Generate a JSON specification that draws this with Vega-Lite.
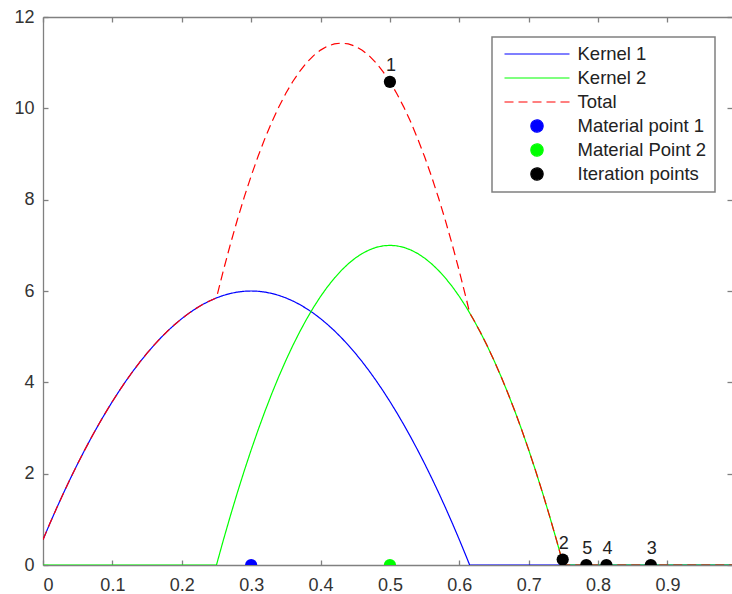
{
  "$schema": "https://vega.github.io/schema/vega-lite/v6.json",
  "width": 689,
  "height": 548,
  "autosize": {"type": "none"},
  "padding": {"left": 43, "top": 17, "right": 0, "bottom": 29},
  "background": "white",
  "config": {
    "view": {"stroke": null},
    "axis": {
      "grid": false,
      "title": null,
      "domainColor": "#808080",
      "domainWidth": 1.3,
      "tickColor": "#808080",
      "tickWidth": 1.3,
      "tickSize": -5,
      "labelFont": "Liberation Sans",
      "labelFontSize": 18,
      "labelColor": "#333333",
      "labelPadding": 16
    },
    "legend": {
      "padding": 8,
      "fillColor": "white",
      "strokeColor": "#808080",
      "strokeWidth": 1.5,
      "labelFont": "Liberation Sans",
      "labelFontSize": 18.5,
      "labelColor": "#222222",
      "clipHeight": 18,
      "rowPadding": 5,
      "symbolStrokeWidth": 1.2,
      "labelOffset": 7,
      "symbolOffset": 3.5
    }
  },
  "datasets": {
    "k1": [
      {"s":"Kernel 1","x":0,"y":0.555},{"s":"Kernel 1","x":0.01,"y":0.912},{"s":"Kernel 1","x":0.02,"y":1.257},{"s":"Kernel 1","x":0.03,"y":1.59},{"s":"Kernel 1","x":0.04,"y":1.91},{"s":"Kernel 1","x":0.05,"y":2.219},{"s":"Kernel 1","x":0.06,"y":2.515},{"s":"Kernel 1","x":0.07,"y":2.8},{"s":"Kernel 1","x":0.08,"y":3.072},{"s":"Kernel 1","x":0.09,"y":3.332},{"s":"Kernel 1","x":0.1,"y":3.58},{"s":"Kernel 1","x":0.11,"y":3.816},{"s":"Kernel 1","x":0.12,"y":4.04},{"s":"Kernel 1","x":0.13,"y":4.252},{"s":"Kernel 1","x":0.14,"y":4.451},{"s":"Kernel 1","x":0.15,"y":4.639},{"s":"Kernel 1","x":0.16,"y":4.814},{"s":"Kernel 1","x":0.17,"y":4.978},{"s":"Kernel 1","x":0.18,"y":5.129},{"s":"Kernel 1","x":0.19,"y":5.268},{"s":"Kernel 1","x":0.2,"y":5.395},{"s":"Kernel 1","x":0.21,"y":5.51},{"s":"Kernel 1","x":0.22,"y":5.613},{"s":"Kernel 1","x":0.23,"y":5.704},{"s":"Kernel 1","x":0.24,"y":5.782},{"s":"Kernel 1","x":0.25,"y":5.849},{"s":"Kernel 1","x":0.26,"y":5.903},{"s":"Kernel 1","x":0.27,"y":5.946},{"s":"Kernel 1","x":0.28,"y":5.976},{"s":"Kernel 1","x":0.29,"y":5.994},{"s":"Kernel 1","x":0.3,"y":6},{"s":"Kernel 1","x":0.31,"y":5.994},{"s":"Kernel 1","x":0.32,"y":5.976},{"s":"Kernel 1","x":0.33,"y":5.946},{"s":"Kernel 1","x":0.34,"y":5.903},{"s":"Kernel 1","x":0.35,"y":5.849},{"s":"Kernel 1","x":0.36,"y":5.782},{"s":"Kernel 1","x":0.37,"y":5.704},{"s":"Kernel 1","x":0.38,"y":5.613},{"s":"Kernel 1","x":0.39,"y":5.51},{"s":"Kernel 1","x":0.4,"y":5.395},{"s":"Kernel 1","x":0.41,"y":5.268},{"s":"Kernel 1","x":0.42,"y":5.129},{"s":"Kernel 1","x":0.43,"y":4.978},{"s":"Kernel 1","x":0.44,"y":4.814},{"s":"Kernel 1","x":0.45,"y":4.639},{"s":"Kernel 1","x":0.46,"y":4.451},{"s":"Kernel 1","x":0.47,"y":4.252},{"s":"Kernel 1","x":0.48,"y":4.04},{"s":"Kernel 1","x":0.49,"y":3.816},{"s":"Kernel 1","x":0.5,"y":3.58},{"s":"Kernel 1","x":0.51,"y":3.332},{"s":"Kernel 1","x":0.52,"y":3.072},{"s":"Kernel 1","x":0.53,"y":2.8},{"s":"Kernel 1","x":0.54,"y":2.515},{"s":"Kernel 1","x":0.55,"y":2.219},{"s":"Kernel 1","x":0.56,"y":1.91},{"s":"Kernel 1","x":0.57,"y":1.59},{"s":"Kernel 1","x":0.58,"y":1.257},{"s":"Kernel 1","x":0.59,"y":0.912},{"s":"Kernel 1","x":0.6,"y":0.555},{"s":"Kernel 1","x":0.61,"y":0.186},{"s":"Kernel 1","x":0.6149,"y":0},{"s":"Kernel 1","x":1,"y":0}
    ],
    "k2": [
      {"s":"Kernel 2","x":0,"y":0},{"s":"Kernel 2","x":0.25,"y":0},{"s":"Kernel 2","x":0.26,"y":0.549},{"s":"Kernel 2","x":0.27,"y":1.075},{"s":"Kernel 2","x":0.28,"y":1.579},{"s":"Kernel 2","x":0.29,"y":2.061},{"s":"Kernel 2","x":0.3,"y":2.52},{"s":"Kernel 2","x":0.31,"y":2.957},{"s":"Kernel 2","x":0.32,"y":3.371},{"s":"Kernel 2","x":0.33,"y":3.763},{"s":"Kernel 2","x":0.34,"y":4.133},{"s":"Kernel 2","x":0.35,"y":4.48},{"s":"Kernel 2","x":0.36,"y":4.805},{"s":"Kernel 2","x":0.37,"y":5.107},{"s":"Kernel 2","x":0.38,"y":5.387},{"s":"Kernel 2","x":0.39,"y":5.645},{"s":"Kernel 2","x":0.4,"y":5.88},{"s":"Kernel 2","x":0.41,"y":6.093},{"s":"Kernel 2","x":0.42,"y":6.283},{"s":"Kernel 2","x":0.43,"y":6.451},{"s":"Kernel 2","x":0.44,"y":6.597},{"s":"Kernel 2","x":0.45,"y":6.72},{"s":"Kernel 2","x":0.46,"y":6.821},{"s":"Kernel 2","x":0.47,"y":6.899},{"s":"Kernel 2","x":0.48,"y":6.955},{"s":"Kernel 2","x":0.49,"y":6.989},{"s":"Kernel 2","x":0.5,"y":7},{"s":"Kernel 2","x":0.51,"y":6.989},{"s":"Kernel 2","x":0.52,"y":6.955},{"s":"Kernel 2","x":0.53,"y":6.899},{"s":"Kernel 2","x":0.54,"y":6.821},{"s":"Kernel 2","x":0.55,"y":6.72},{"s":"Kernel 2","x":0.56,"y":6.597},{"s":"Kernel 2","x":0.57,"y":6.451},{"s":"Kernel 2","x":0.58,"y":6.283},{"s":"Kernel 2","x":0.59,"y":6.093},{"s":"Kernel 2","x":0.6,"y":5.88},{"s":"Kernel 2","x":0.61,"y":5.645},{"s":"Kernel 2","x":0.62,"y":5.387},{"s":"Kernel 2","x":0.63,"y":5.107},{"s":"Kernel 2","x":0.64,"y":4.805},{"s":"Kernel 2","x":0.65,"y":4.48},{"s":"Kernel 2","x":0.66,"y":4.133},{"s":"Kernel 2","x":0.67,"y":3.763},{"s":"Kernel 2","x":0.68,"y":3.371},{"s":"Kernel 2","x":0.69,"y":2.957},{"s":"Kernel 2","x":0.7,"y":2.52},{"s":"Kernel 2","x":0.71,"y":2.061},{"s":"Kernel 2","x":0.72,"y":1.579},{"s":"Kernel 2","x":0.73,"y":1.075},{"s":"Kernel 2","x":0.74,"y":0.549},{"s":"Kernel 2","x":0.75,"y":0},{"s":"Kernel 2","x":1,"y":0}
    ],
    "tot": [
      {"s":"Total","x":0,"y":0.555},{"s":"Total","x":0.01,"y":0.912},{"s":"Total","x":0.02,"y":1.257},{"s":"Total","x":0.03,"y":1.59},{"s":"Total","x":0.04,"y":1.91},{"s":"Total","x":0.05,"y":2.219},{"s":"Total","x":0.06,"y":2.515},{"s":"Total","x":0.07,"y":2.8},{"s":"Total","x":0.08,"y":3.072},{"s":"Total","x":0.09,"y":3.332},{"s":"Total","x":0.1,"y":3.58},{"s":"Total","x":0.11,"y":3.816},{"s":"Total","x":0.12,"y":4.04},{"s":"Total","x":0.13,"y":4.252},{"s":"Total","x":0.14,"y":4.451},{"s":"Total","x":0.15,"y":4.639},{"s":"Total","x":0.16,"y":4.814},{"s":"Total","x":0.17,"y":4.978},{"s":"Total","x":0.18,"y":5.129},{"s":"Total","x":0.19,"y":5.268},{"s":"Total","x":0.2,"y":5.395},{"s":"Total","x":0.21,"y":5.51},{"s":"Total","x":0.22,"y":5.613},{"s":"Total","x":0.23,"y":5.704},{"s":"Total","x":0.24,"y":5.782},{"s":"Total","x":0.25,"y":5.849},{"s":"Total","x":0.26,"y":6.452},{"s":"Total","x":0.27,"y":7.021},{"s":"Total","x":0.28,"y":7.555},{"s":"Total","x":0.29,"y":8.055},{"s":"Total","x":0.3,"y":8.52},{"s":"Total","x":0.31,"y":8.951},{"s":"Total","x":0.32,"y":9.347},{"s":"Total","x":0.33,"y":9.709},{"s":"Total","x":0.34,"y":10.036},{"s":"Total","x":0.35,"y":10.329},{"s":"Total","x":0.36,"y":10.587},{"s":"Total","x":0.37,"y":10.811},{"s":"Total","x":0.38,"y":11.0},{"s":"Total","x":0.39,"y":11.155},{"s":"Total","x":0.4,"y":11.275},{"s":"Total","x":0.41,"y":11.361},{"s":"Total","x":0.42,"y":11.412},{"s":"Total","x":0.43,"y":11.429},{"s":"Total","x":0.44,"y":11.411},{"s":"Total","x":0.45,"y":11.359},{"s":"Total","x":0.46,"y":11.272},{"s":"Total","x":0.47,"y":11.151},{"s":"Total","x":0.48,"y":10.995},{"s":"Total","x":0.49,"y":10.805},{"s":"Total","x":0.5,"y":10.58},{"s":"Total","x":0.51,"y":10.321},{"s":"Total","x":0.52,"y":10.027},{"s":"Total","x":0.53,"y":9.699},{"s":"Total","x":0.54,"y":9.336},{"s":"Total","x":0.55,"y":8.939},{"s":"Total","x":0.56,"y":8.507},{"s":"Total","x":0.57,"y":8.041},{"s":"Total","x":0.58,"y":7.54},{"s":"Total","x":0.59,"y":7.005},{"s":"Total","x":0.6,"y":6.435},{"s":"Total","x":0.61,"y":5.831},{"s":"Total","x":0.6149,"y":5.521},{"s":"Total","x":0.62,"y":5.387},{"s":"Total","x":0.63,"y":5.107},{"s":"Total","x":0.64,"y":4.805},{"s":"Total","x":0.65,"y":4.48},{"s":"Total","x":0.66,"y":4.133},{"s":"Total","x":0.67,"y":3.763},{"s":"Total","x":0.68,"y":3.371},{"s":"Total","x":0.69,"y":2.957},{"s":"Total","x":0.7,"y":2.52},{"s":"Total","x":0.71,"y":2.061},{"s":"Total","x":0.72,"y":1.579},{"s":"Total","x":0.73,"y":1.075},{"s":"Total","x":0.74,"y":0.549},{"s":"Total","x":0.75,"y":0},{"s":"Total","x":1,"y":0}
    ],
    "pts": [
      {"s":"Material point 1","x":0.3,"y":0},
      {"s":"Material Point 2","x":0.5,"y":0},
      {"s":"Iteration points","x":0.5,"y":10.58,"label":"1"},
      {"s":"Iteration points","x":0.749,"y":0.12,"label":"2"},
      {"s":"Iteration points","x":0.876,"y":0,"label":"3"},
      {"s":"Iteration points","x":0.812,"y":0,"label":"4"},
      {"s":"Iteration points","x":0.783,"y":0,"label":"5"}
    ]
  },
  "layer": [
    {
      "data": {"name": "k1"},
      "mark": {"type": "line", "strokeWidth": 1.2, "clip": true},
      "encoding": {
        "x": {"field": "x", "type": "quantitative", "scale": {"domain": [0, 0.993], "nice": false, "zero": false},
              "axis": {"orient": "bottom", "values": [0,0.1,0.2,0.3,0.4,0.5,0.6,0.7,0.8,0.9], "format": "~g"}},
        "y": {"field": "y", "type": "quantitative", "scale": {"domain": [0, 12], "nice": false},
              "axis": {"orient": "left", "values": [0,2,4,6,8,10,12], "labelPadding": 14}},
        "color": {"field": "s", "type": "nominal",
                  "scale": {"domain": ["Kernel 1","Kernel 2","Total","Material point 1","Material Point 2","Iteration points"],
                            "range": ["#0000ff","#00ff00","#ff0000","#0000ff","#00ff00","#000000"]},
                  "legend": {"title": null, "orient": "none", "legendX": 449, "legendY": 20}},
        "strokeDash": {"field": "s", "type": "nominal",
                  "scale": {"domain": ["Kernel 1","Kernel 2","Total","Material point 1","Material Point 2","Iteration points"],
                            "range": [[1,0],[1,0],[9,5],[1,0],[1,0],[1,0]]},
                  "legend": {"title": null}}
      }
    },
    {
      "data": {"name": "k2"},
      "mark": {"type": "line", "strokeWidth": 1.2, "clip": true},
      "encoding": {
        "x": {"field": "x", "type": "quantitative", "axis": null},
        "y": {"field": "y", "type": "quantitative", "axis": null},
        "color": {"field": "s", "type": "nominal"},
        "strokeDash": {"field": "s", "type": "nominal"}
      }
    },
    {
      "data": {"name": "tot"},
      "mark": {"type": "line", "strokeWidth": 1.2, "clip": true},
      "encoding": {
        "x": {"field": "x", "type": "quantitative", "axis": null},
        "y": {"field": "y", "type": "quantitative", "axis": null},
        "color": {"field": "s", "type": "nominal"},
        "strokeDash": {"field": "s", "type": "nominal"}
      }
    },
    {
      "data": {"name": "pts"},
      "mark": {"type": "point", "filled": true, "opacity": 1, "clip": true},
      "encoding": {
        "x": {"field": "x", "type": "quantitative", "axis": {"orient": "top", "labels": false, "values": [0,0.1,0.2,0.3,0.4,0.5,0.6,0.7,0.8,0.9]}},
        "y": {"field": "y", "type": "quantitative", "axis": {"orient": "right", "labels": false, "domain": false, "values": [0,2,4,6,8,10,12]}},
        "color": {"field": "s", "type": "nominal"},
        "shape": {"field": "s", "type": "nominal",
                  "scale": {"domain": ["Kernel 1","Kernel 2","Total","Material point 1","Material Point 2","Iteration points"],
                            "range": ["stroke","stroke","stroke","circle","circle","circle"]},
                  "legend": {"title": null}},
        "size": {"field": "s", "type": "nominal",
                 "scale": {"type": "ordinal", "domain": ["Kernel 1","Kernel 2","Total","Material point 1","Material Point 2","Iteration points"],
                           "range": [4225,4225,4225,150,150,150]},
                 "legend": {"title": null}}
      }
    },
    {
      "data": {"name": "pts"},
      "transform": [{"filter": "isValid(datum.label)"}],
      "mark": {"type": "text", "font": "Liberation Sans", "fontSize": 18, "color": "#222222", "baseline": "alphabetic", "dy": -11, "dx": 1},
      "encoding": {
        "x": {"field": "x", "type": "quantitative", "axis": null},
        "y": {"field": "y", "type": "quantitative", "axis": null},
        "text": {"field": "label"}
      }
    }
  ]
}
